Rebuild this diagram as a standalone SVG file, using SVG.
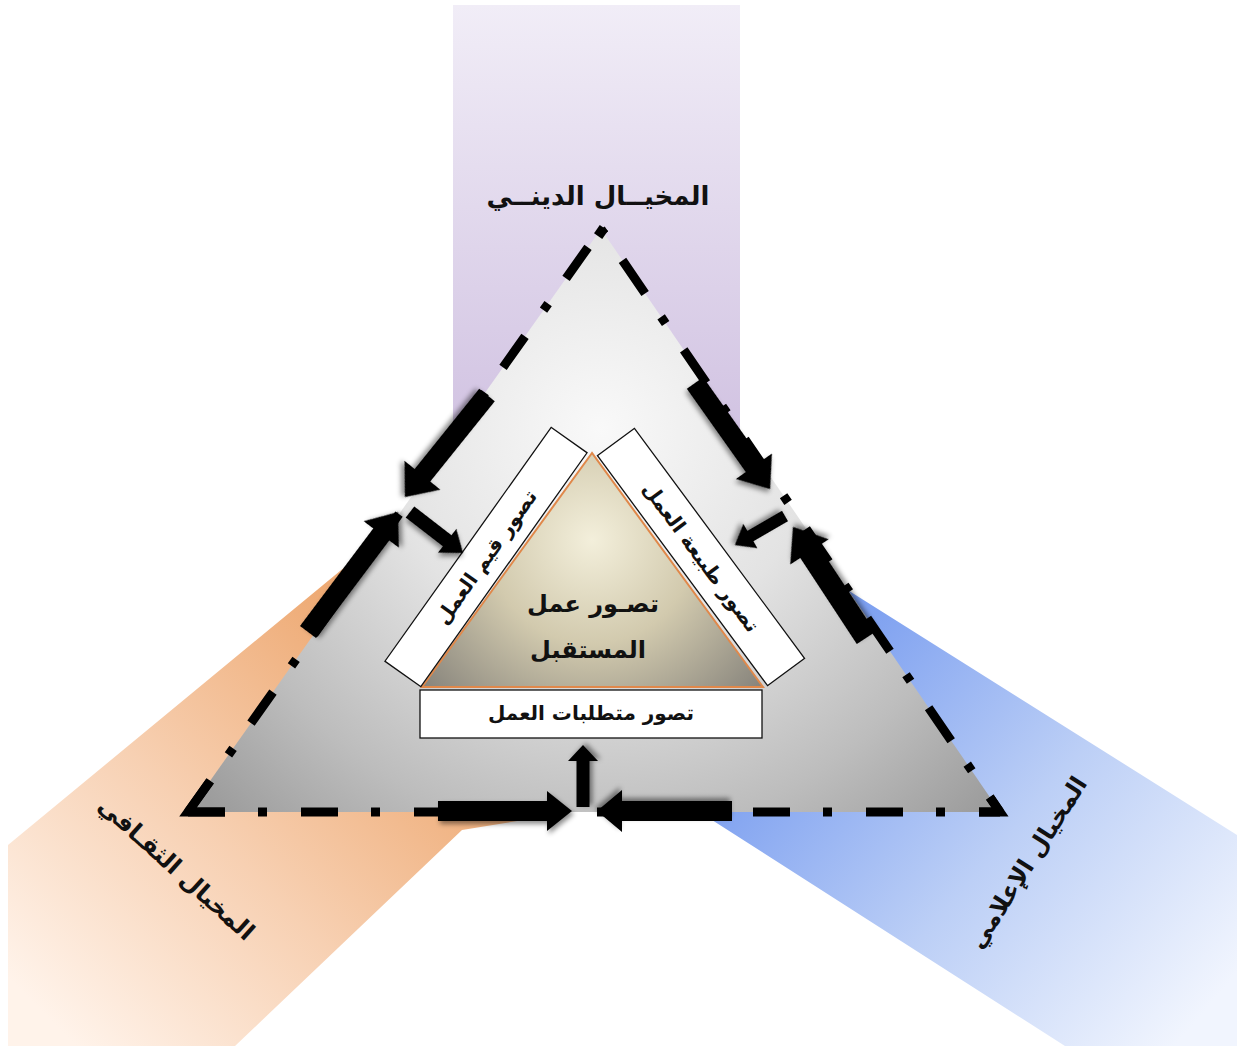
<svg xmlns="http://www.w3.org/2000/svg" width="1237" height="1046" viewBox="0 0 1237 1046">
<style>
.lbl{font-family:"DejaVu Sans","Noto Sans",sans-serif;font-weight:bold;fill:#111;text-anchor:middle}
.edge{fill:none;stroke:#000;stroke-width:9;stroke-linecap:butt}
.box{fill:#fff;stroke:#111;stroke-width:1.3}
.arr{fill:#000;filter:url(#sh)}
</style>
<defs>
<linearGradient id="gP" x1="0" y1="0" x2="0" y2="1">
<stop offset="0" stop-color="#f1edf7"/><stop offset="1" stop-color="#d0c1e1"/>
</linearGradient>
<linearGradient id="gO" gradientUnits="userSpaceOnUse" x1="420" y1="690" x2="70" y2="1040">
<stop offset="0" stop-color="#eeaa74"/><stop offset="0.5" stop-color="#f7d0b2"/><stop offset="1" stop-color="#fff3ea"/>
</linearGradient>
<linearGradient id="gB" gradientUnits="userSpaceOnUse" x1="780" y1="700" x2="1180" y2="1040">
<stop offset="0" stop-color="#7c9ff0"/><stop offset="0.5" stop-color="#bccff6"/><stop offset="1" stop-color="#f1f5fe"/>
</linearGradient>
<radialGradient id="gT" gradientUnits="userSpaceOnUse" cx="600" cy="430" r="540">
<stop offset="0" stop-color="#f9f9f9"/><stop offset="0.4" stop-color="#e3e3e3"/><stop offset="0.75" stop-color="#bdbdbd"/><stop offset="1" stop-color="#9c9c9c"/>
</radialGradient>
<radialGradient id="gI" gradientUnits="userSpaceOnUse" cx="592" cy="540" r="230">
<stop offset="0" stop-color="#f3efdb"/><stop offset="0.45" stop-color="#d2caae"/><stop offset="1" stop-color="#838079"/>
</radialGradient>
<filter id="sh" x="-30%" y="-30%" width="160%" height="160%">
<feDropShadow dx="2" dy="3" stdDeviation="2.5" flood-color="#000" flood-opacity="0.45"/>
</filter>
</defs>

<g id="bands">
<rect x="453" y="5" width="287" height="445" fill="url(#gP)"/>
<polygon points="420,505 8,845 8,1046 235,1046 462,830 560,814" fill="url(#gO)"/>
<polygon points="800,560 1237,835 1237,1046 1065,1046 712,820 610,814" fill="url(#gB)"/>
</g>

<g id="main-triangle">
<polygon points="188,812 601,229 1000,812" fill="url(#gT)"/>
<path class="edge" d="M188,812 H1000" stroke-dasharray="37 33 9 34"/>
<path class="edge" d="M188,812 L601,229" stroke-dasharray="38 32 8 31"/>
<path class="edge" d="M1000,812 L601,229" stroke-dasharray="40 32 8 28.4" stroke-dashoffset="22"/>
<path class="edge" d="M210.3,780.9 L188,812 L225,812" stroke-linejoin="miter"/>
<path class="edge" d="M979,812 L1000,812 L989.8,797.1" stroke-linejoin="miter"/>
<rect x="-5" y="-5" width="10" height="10" transform="translate(601,232) rotate(35)" fill="#000"/>
</g>

<g id="label-religious"><text class="lbl" x="598" y="205" font-size="26">المخيــال الدينــي</text></g>
<g id="label-cultural"><text class="lbl" transform="translate(177,868) rotate(42)" y="9" font-size="24">المخيال الثقـافي</text></g>
<g id="label-media"><text class="lbl" transform="translate(1027,862) rotate(-57.4)" y="9" font-size="24">المخيال الإعلامي</text></g>

<g id="inner-triangle">
<polygon points="592,453 422,687 763,687" fill="url(#gI)" stroke="#e0884a" stroke-width="2"/>
<text class="lbl" x="593" y="612" font-size="24">تصـور عمل</text>
<text class="lbl" x="588" y="658" font-size="24">المستقبل</text>
</g>

<g id="box-values" transform="translate(486,557) rotate(-54.6)">
<rect class="box" x="-143.5" y="-22" width="287" height="44"/>
<text class="lbl" x="0" y="7" font-size="20">تصور قيم العمل</text>
</g>
<g id="box-nature" transform="translate(701,557) rotate(53.5)">
<rect class="box" x="-143" y="-23" width="286" height="46"/>
<text class="lbl" x="0" y="7" font-size="20">تصور طبيعة العمل</text>
</g>
<g id="box-requirements">
<rect class="box" x="420" y="690" width="342" height="48"/>
<text class="lbl" x="591" y="720" font-size="20">تصور متطلبات العمل</text>
</g>

<g id="connectors">
<path class="arr" transform="translate(487,395) rotate(128.8)" d="M0,-10 L103,-10 L103,-23 L131,0 L103,23 L103,10 L0,10Z"/>
<path class="arr" transform="translate(410,512) rotate(37.7)" d="M0,-7 L47,-7 L47,-15 L67,0 L47,15 L47,7 L0,7Z"/>
<path class="arr" transform="translate(308,632) rotate(-53.1)" d="M0,-10 L122,-10 L122,-22 L150,0 L122,22 L122,10 L0,10Z"/>
<path class="arr" transform="translate(695,383) rotate(54.7)" d="M0,-10 L102,-10 L102,-22 L130,0 L102,22 L102,10 L0,10Z"/>
<path class="arr" transform="translate(785,516) rotate(149.9)" d="M0,-6 L40,-6 L40,-14 L58,0 L40,14 L40,6 L0,6Z"/>
<path class="arr" transform="translate(866,638) rotate(-123.3)" d="M0,-11 L103,-11 L103,-23 L133,0 L103,23 L103,11 L0,11Z"/>
<path class="arr" transform="translate(438,811)" d="M0,-10 L109,-10 L109,-20 L134,0 L109,20 L109,10 L0,10Z"/>
<path class="arr" transform="translate(732,811) rotate(180)" d="M0,-10 L110,-10 L110,-21 L135,0 L110,21 L110,10 L0,10Z"/>
<path class="arr" transform="translate(583,807) rotate(-90)" d="M0,-6.5 L46,-6.5 L46,-15 L62,0 L46,15 L46,6.5 L0,6.5Z"/>
</g>
</svg>
